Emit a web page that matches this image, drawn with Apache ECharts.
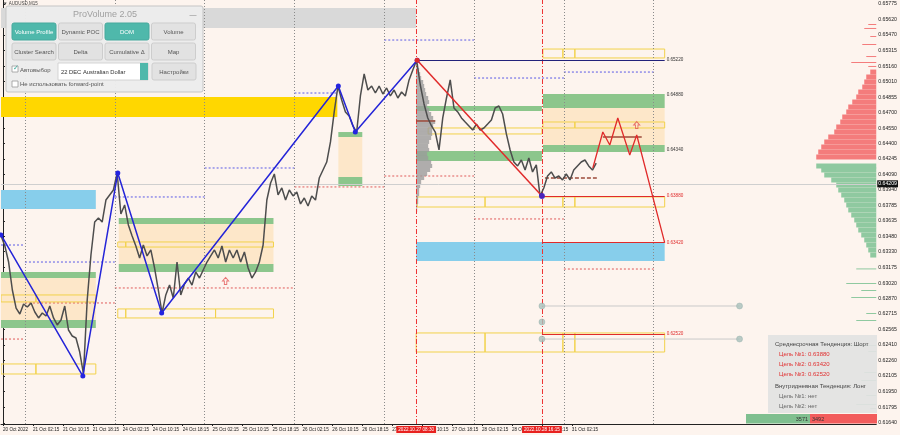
<!DOCTYPE html>
<html><head><meta charset="utf-8">
<script src="https://cdn.jsdelivr.net/npm/echarts@6/dist/echarts.min.js"></script>
<style>html,body{margin:0;padding:0;background:#fdf4ee;}#c{width:900px;height:435px;}</style>
</head><body><div id="c"></div>
<script>
// ---------- DATA ----------
const xTickHours = [0,8,16,24,32,40,48,56,64,72,80,88,96,104,112,120,128,136,144,152];
const xTickLabels = ['20 Oct 2022','21 Oct 02:15','21 Oct 10:15','21 Oct 18:15','24 Oct 02:15','24 Oct 10:15','24 Oct 18:15','25 Oct 02:15','25 Oct 10:15','25 Oct 18:15','26 Oct 02:15','26 Oct 10:15','26 Oct 18:15','27 Oct 02:15','27 Oct 10:15','27 Oct 18:15','28 Oct 02:15','28 Oct 10:15','28 Oct 18:15','31 Oct 02:15'];
const yTicks = [0.65775,0.65620,0.65470,0.65315,0.65160,0.65010,0.64855,0.64700,0.64550,0.64400,0.64245,0.64090,0.63940,0.63785,0.63635,0.63480,0.63330,0.63175,0.63020,0.62870,0.62715,0.62565,0.62410,0.62260,0.62105,0.61950,0.61795,0.61640];
const lastPrice = 0.64209;
const priceStartHour = -0.5;
const closes = [0.63485,0.63386,0.63228,0.62952,0.62774,0.62715,0.62814,0.62784,0.62824,0.62735,
0.62676,0.62725,0.62695,0.62794,0.62676,0.62607,0.62656,0.62794,0.62557,0.62498,
0.62478,0.62340,0.62123,0.62853,0.63297,0.63623,0.63663,0.63623,0.63840,0.63890,
0.63939,0.64107,0.63702,0.63791,0.63594,0.63485,0.63386,0.63268,0.63396,0.63288,
0.63347,0.63169,0.62952,0.62725,0.62903,0.63001,0.62873,0.63228,0.62903,0.63011,
0.63070,0.63001,0.63130,0.63070,0.63149,0.63228,0.63288,0.63347,0.63268,0.63386,
0.63228,0.63347,0.63268,0.63347,0.63228,0.63327,0.63169,0.63070,0.63130,0.63228,
0.63396,0.63840,0.64008,0.64097,0.63890,0.63959,0.63840,0.63939,0.63880,0.63919,
0.63801,0.63860,0.63781,0.63880,0.63840,0.64057,0.64136,0.64215,0.64413,0.64709,
0.64965,0.64827,0.64709,0.64669,0.64571,0.64511,0.64867,0.65084,0.64926,0.64965,
0.64896,0.64965,0.64886,0.64946,0.64867,0.64926,0.64847,0.64906,0.64867,0.65025,
0.65123,0.65220,0.64975,0.64788,0.64650,0.64571,0.64511,0.64334,0.64650,0.64847,
0.65025,0.64748,0.64709,0.64650,0.64610,0.64571,0.64531,0.64590,0.64531,0.64551,
0.64590,0.64630,0.64748,0.64768,0.64689,0.64492,0.64334,0.64215,0.64176,0.64235,
0.64136,0.64255,0.64117,0.64186,0.63880,0.63959,0.64077,0.64117,0.64057,0.64077,
0.64038,0.64097,0.64038,0.64136,0.64176,0.64215,0.64235,0.64176,0.64136,0.64205];
const zigzagUp = [[-0.53,0.63495],[21.33,0.62103],[30.67,0.64107],[42.4,0.62725],[89.6,0.64965],[94.13,0.64511],[110.67,0.65220]];
const zigzagDown = [[110.67,0.65220],[144,0.63880]];
const projection = [[157.6,0.64156],[160.27,0.64511],[162.13,0.64383],[164.27,0.64649],[167.47,0.64284],[169.33,0.64482],[176.8,0.63420]];
const targets = [0.63880,0.63420,0.62520];
const highLevel = 0.65220;
const zoneLevels = [0.64880,0.64340];
// zones: [startHour, endHour, upperPrice, lowerPrice, kind]
const zones = [
 [-0.53,110.4,0.65735,0.65538,'gray'],
 [-0.53,89.33,0.64857,0.64659,'gold'],
 [-0.53,24.8,0.63939,0.63751,'blue'],
 [110.4,176.8,0.63426,0.63238,'blue'],
 [-0.53,24.8,0.63071,0.62656,'peach'],
 [30.93,72.27,0.63603,0.63209,'peach'],
 [89.6,96,0.64462,0.64067,'peach'],
 [144.27,176.8,0.64748,0.64383,'peach'],
 [-0.53,24.8,0.63130,0.63071,'green'],
 [-0.53,24.8,0.62656,0.62577,'green'],
 [30.93,72.27,0.63663,0.63603,'green'],
 [30.93,72.27,0.63209,0.63130,'green'],
 [89.6,96,0.64511,0.64462,'green'],
 [89.6,96,0.64067,0.63978,'green'],
 [110.4,144,0.64768,0.64719,'green'],
 [110.4,144,0.64324,0.64225,'green'],
 [144.27,176.8,0.64886,0.64748,'green'],
 [144.27,176.8,0.64383,0.64314,'green']
];
const outlineBoxes = [
 [-0.53,8.8,0.62903,0.62834],[8.8,24.8,0.62903,0.62834],
 [-0.53,8.8,0.62222,0.62123],[8.8,24.8,0.62222,0.62123],
 [30.67,32.8,0.63426,0.63376],[32.8,72.27,0.63426,0.63376],
 [30.67,32.8,0.62765,0.62676],[32.8,56.8,0.62765,0.62676],[56.8,72.27,0.62765,0.62676],
 [110.67,128.8,0.63870,0.63771],[128.8,149.6,0.63870,0.63771],[149.6,152.8,0.63870,0.63771],[152.8,176.8,0.63870,0.63771],
 [144.27,149.6,0.65330,0.65242],[149.6,152.8,0.65330,0.65242],[152.8,176.8,0.65330,0.65242],
 [144.27,152.8,0.64610,0.64551],[152.8,176.8,0.64610,0.64551],
 [113.6,144,0.64551,0.64492],
 [110.4,128.8,0.62528,0.62340],[128.8,149.6,0.62528,0.62340],[149.6,152.8,0.62528,0.62340],[152.8,176.8,0.62528,0.62340]
];
// dotted levels: [startHour, endHour, price, kind]
const dottedLevels = [
 [-0.53,5.87,0.63396,'blue'],[5.87,29.87,0.63228,'blue'],[29.87,53.87,0.63870,'blue'],[53.87,77.87,0.64156,'blue'],
 [77.87,89.6,0.64896,'blue'],[101.87,125.87,0.65419,'blue'],[125.87,149.87,0.65044,'blue'],[149.87,173.87,0.65103,'blue'],
 [-0.53,5.87,0.62468,'red'],[5.87,29.87,0.62824,'red'],[29.87,77.87,0.62972,'red'],[77.87,101.87,0.63969,'red'],
 [101.87,125.87,0.64077,'red'],[125.87,149.87,0.63653,'red'],[149.87,173.87,0.63159,'red']
];
const brownLevels = [[110.4,115.5,0.64620,'solid'],[144.8,158.67,0.64057,'dashed'],[160.27,170.67,0.64462,'solid']];
const arrowsUp = [[59.47,0.63041],[169.33,0.64580]];
const grayLevels = [[144,196.8,0.62794],[144,196.8,0.62468]];
const grayDots = [[144,0.62794],[144,0.62636],[144,0.62468],[196.8,0.62794],[196.8,0.62468]];
const sessionMarks = [[110.4,'2022.10.27 08:30'],[144,'2022.10.28 16:15']];
const profileStart = 110.4;
const profileStep = 0.000395;
const profile = [[0.65202,1],[0.65163,2],[0.65123,3],[0.65084,4],[0.65044,5],[0.65005,7],[0.64965,8],[0.64926,9],[0.64886,10],[0.64847,12],
 [0.64807,13],[0.64768,11],[0.64728,13],[0.64689,15],[0.64650,17],[0.64610,19],[0.64571,17],[0.64531,16],[0.64492,16],[0.64452,15],
 [0.64413,13],[0.64373,12],[0.64334,13],[0.64294,11],[0.64255,12],[0.64215,15],[0.64176,16],[0.64136,14],[0.64097,11],[0.64057,8],
 [0.64018,5],[0.63978,4],[0.63939,3],[0.63899,3],[0.63860,2],[0.63821,2],[0.63781,1],[0.63742,1]];
const domStep = 0.000493;
const domAsk = [[0.65103,6],[0.65054,10],[0.65005,12],[0.64955,14],[0.64906,18],[0.64857,20],[0.64807,24],[0.64758,28],[0.64709,30],[0.64660,34],
 [0.64610,36],[0.64561,40],[0.64511,42],[0.64462,48],[0.64413,52],[0.64363,55],[0.64314,58],[0.64265,60]];
const domBid = [[0.64176,60],[0.64136,55],[0.64087,52],[0.64038,45],[0.63988,40],[0.63939,38],[0.63890,35],[0.63840,32],[0.63791,30],[0.63742,28],
 [0.63692,25],[0.63643,22],[0.63594,20],[0.63544,18],[0.63495,15],[0.63446,12],[0.63396,10],[0.63347,8],[0.63297,6]];
const domAskThin = [[0.65577,8],[0.65538,12],[0.65459,6],[0.65380,14],[0.65261,10],[0.65202,25],[0.65163,8]];
const domBidThin = [[0.63165,20],[0.63021,30],[0.62952,15],[0.62883,25],[0.62725,10],[0.62656,20],[0.62409,30],[0.62350,8],[0.62143,12],[0.62064,15],[0.61916,10],[0.61827,20],[0.61787,6]];
const bidVolume = 3571, askVolume = 3492;

// ---------- CHART ----------
const xMin = -0.533, xMax = 233.33;
const zoneColors = {gray:'#d9d9d9', gold:'#ffd700', blue:'#87ceeb', green:'#8cc68c', peach:'#fde7c9'};
const font = 'Liberation Sans, Arial, sans-serif';
const priceData = closes.map((p,i)=>[priceStartHour+i, p]);

function rectRender(list, styleOf){
  return function(params, api){
    const d = list[params.dataIndex];
    const a = api.coord([d[0], d[2]]), b = api.coord([d[1], d[3]]);
    return {type:'rect', shape:{x:a[0], y:a[1], width:b[0]-a[0], height:b[1]-a[1]}, style:styleOf(d)};
  };
}
function segRender(list, styleOf){
  return function(params, api){
    const d = list[params.dataIndex];
    const a = api.coord([d[0], d[2]]), b = api.coord([d[1], d[2]]);
    return {type:'line', shape:{x1:a[0], y1:a[1], x2:b[0], y2:b[1]}, style:styleOf(d)};
  };
}
const series = [];
const daySeparators = [5.87,29.87,53.87,77.87,101.87,125.87,149.87,173.87];
series.push({type:'line', silent:true, z:1, data:[], markLine:{silent:true, symbol:'none', label:{show:false},
  lineStyle:{color:'#8a8a8a', width:1, type:[1,2]}, data:daySeparators.map(x=>({xAxis:x}))}});
series.push({type:'custom', silent:true, clip:true, z:1, data:zones.map(d=>[d[0],d[1],d[2],d[3]]),
  renderItem: rectRender(zones, d=>({fill:zoneColors[d[4]]}))});
series.push({type:'custom', silent:true, clip:true, z:2, data:dottedLevels.map(d=>[d[0],d[1],d[2]]),
  renderItem: segRender(dottedLevels, d=>({stroke: d[3]==='blue' ? '#5a5ae6' : '#e05a5a', lineWidth:1, lineDash:[2,2]}))});
series.push({type:'custom', silent:true, clip:true, z:3, data:outlineBoxes,
  renderItem: rectRender(outlineBoxes, d=>({fill:'none', stroke:'#f2d24a', lineWidth:1}))});
// mid volume profile
series.push({type:'custom', silent:true, clip:true, z:4, data:profile,
  renderItem(params, api){
    const d = profile[params.dataIndex];
    const a = api.coord([profileStart, d[0] + profileStep/2]);
    const h = api.size([0, profileStep])[1];
    return {type:'rect', shape:{x:a[0], y:a[1], width:d[1], height:h}, style:{fill:'#9b9b9b', opacity:0.8}};
  }});
// DOM profile at right edge
const dom = domAsk.map(d=>[d[0],d[1],'ask',domStep]).concat(domBid.map(d=>[d[0],d[1],'bid',domStep]))
  .concat(domAskThin.map(d=>[d[0],d[1],'ask',0])).concat(domBidThin.map(d=>[d[0],d[1],'bid',0]));
series.push({type:'custom', silent:true, clip:true, z:4, data:dom.map(d=>[d[0],d[1]]),
  renderItem(params, api){
    const d = dom[params.dataIndex];
    const a = api.coord([xMax, d[0] + d[3]/2]);
    const h = d[3] ? api.size([0, d[3]])[1] : 1;
    return {type:'rect', shape:{x:a[0]-d[1], y:a[1], width:d[1], height:h}, style:{fill: d[2]==='ask' ? '#f47c7c' : '#8fc9a0'}};
  }});
series.push({type:'custom', silent:true, clip:true, z:5, data:brownLevels.map(d=>[d[0],d[1],d[2]]),
  renderItem: segRender(brownLevels, d=>({stroke:'#9c4a3a', lineWidth:1.5, lineDash: d[3]==='dashed'?[4,2]:null}))});
series.push({type:'custom', silent:true, clip:true, z:5, data:grayLevels,
  renderItem: segRender(grayLevels, d=>({stroke:'#c9c9c9', lineWidth:1}))});
series.push({type:'scatter', silent:true, z:6, data:grayDots, symbolSize:6, itemStyle:{color:'#a9c0bb', borderColor:'#8faaa4', borderWidth:0.5}});
// price
series.push({type:'line', silent:true, z:7, data:priceData, showSymbol:false, lineStyle:{color:'#4d4d4d', width:1.5},
  markLine:{silent:true, symbol:'none', data:[
    {yAxis:lastPrice, lineStyle:{color:'#cfcfcf', width:1, type:'solid'},
     label:{show:true, position:'end', distance:1, formatter:lastPrice.toFixed(5), color:'#fff', backgroundColor:'#111', padding:[1,1], fontSize:5.2, fontFamily:font}},
    ...sessionMarks.map(s=>({xAxis:s[0], lineStyle:{color:'#e33', width:1, type:[5,2,1,2]},
     label:{show:true, position:'start', distance:2, formatter:s[1], color:'#fff', backgroundColor:'#e8211f', padding:[1,2], fontSize:4.6, fontFamily:font}}))
  ]}});
series.push({type:'line', silent:true, z:8, data:zigzagUp, lineStyle:{color:'#2424d8', width:1.5}, symbol:'circle', symbolSize:5,
  itemStyle:{color:'#2424e0'}, showAllSymbol:true});
series.push({type:'line', silent:true, z:8, data:zigzagDown, lineStyle:{color:'#e02a2a', width:1.5}, symbol:'circle', symbolSize:5,
  itemStyle:{color:'#e02a2a'}});
series.push({type:'scatter', silent:true, z:9, data:[zigzagDown[1]], symbolSize:6, itemStyle:{color:'#2424e0'}});
series.push({type:'line', silent:true, z:8, data:projection, showSymbol:false, lineStyle:{color:'#e02a2a', width:1.3}});
const lvl = (p, col, t0) => [{coord:[t0, p], lineStyle:{color:col, width: col==='none'?0:1.2}}, {coord:[176.8, p],
  label:{show:true, position:'end', distance:2, formatter:p.toFixed(5), color: col==='#e02a2a' ? '#e02a2a' : '#333', fontSize:4.6, fontFamily:font}}];
series.push({type:'line', silent:true, z:8, data:[], markLine:{silent:true, symbol:'none', lineStyle:{type:'solid'}, data:[
  lvl(highLevel, '#22227a', 110.67),
  ...targets.map(p=>lvl(p, '#e02a2a', 144)),
  ...zoneLevels.map(p=>lvl(p, 'none', 175))
]}});
series.push({type:'scatter', silent:true, z:9, data:arrowsUp, symbol:'path://M5,0 L10,5 L7,5 L7,10 L3,10 L3,5 L0,5 Z', symbolSize:[6,7],
  itemStyle:{color:'rgba(255,255,255,0)', borderColor:'#e25555', borderWidth:1}});

const option = {
  backgroundColor:'#fdf4ee',
  animation:false,
  grid:{left:0, right:23, top:0, bottom:11, containLabel:false},
  xAxis:{type:'value', min:xMin, max:xMax,
    axisLine:{show:true, lineStyle:{color:'#222', width:1}},
    axisTick:{show:true, length:2, customValues:xTickHours, lineStyle:{color:'#222'}},
    splitLine:{show:false},
    axisLabel:{customValues:xTickHours, formatter:v=>xTickLabels[xTickHours.indexOf(v)], align:'left', margin:3, fontSize:4.6, color:'#222', fontFamily:font}},
  yAxis:{type:'value', position:'right', min:0.616295, max:0.65814,
    axisLine:{show:true, lineStyle:{color:'#222', width:1}},
    axisTick:{show:true, length:2, customValues:yTicks, lineStyle:{color:'#222'}},
    splitLine:{show:false},
    axisLabel:{customValues:yTicks, formatter:v=>v.toFixed(5), margin:2, fontSize:5.2, color:'#222', fontFamily:font}},
  series:series,
  graphic:[]
};

// ---------- OVERLAYS (panel, info box) ----------
const g = [];
const T = (x,y,text,opt={}) => g.push({type:'text', x, y, silent:true, z:100, style:Object.assign({text, fontSize:6, fill:'#333', fontFamily:font, textVerticalAlign:'middle'}, opt)});
const R = (x,y,w,h,opt={}) => g.push({type:'rect', silent:true, z:99, shape:{x,y,width:w,height:h,r:opt.r||0}, style:Object.assign({fill:'#e5e5e5'}, opt.style||{})});
T(3,4,'▼ AUDUSD,M15',{fontSize:4.5, fill:'#444'});
R(6,6,197,86,{r:2, style:{fill:'rgba(236,236,236,0.97)', stroke:'#c5c5c5', lineWidth:1}});
T(105,15,'ProVolume 2.05',{fontSize:9, fill:'#a0a0a0', textAlign:'center'});
T(193,15,'—',{fontSize:7, fill:'#888', textAlign:'center'});
const btns = [['Volume Profile',true],['Dynamic POC',false],['DOM',true],['Volume',false],['Cluster Search',false],['Delta',false],['Cumulative Δ',false],['Map',false]];
btns.forEach((b,i)=>{
  const col=i%4, row=Math.floor(i/4);
  const x=12+col*46.5, y=23+row*20;
  R(x,y,44,17,{r:2, style:{fill:b[1]?'#4fb8ab':'#e2e2e2', stroke:b[1]?'#47a99d':'#cdcdcd', lineWidth:1}});
  T(x+22,y+9,b[0],{fontSize:6, fill:b[1]?'#fff':'#555', textAlign:'center'});
});
R(12,66,6,6,{style:{fill:'#fff', stroke:'#999', lineWidth:0.8}});
T(12.5,68,'✓',{fontSize:7, fill:'#3aa89b'});
T(20,70,'Автовыбор',{fontSize:6, fill:'#555'});
R(58,63,90,17,{style:{fill:'#fff', stroke:'#ccc', lineWidth:0.8}});
R(140,63,8,17,{style:{fill:'#4fb8ab'}});
T(61,72,'22 DEC Australian Dollar',{fontSize:5.8, fill:'#333'});
R(152,63,44,17,{r:2, style:{fill:'#e2e2e2', stroke:'#cdcdcd', lineWidth:1}});
T(174,72,'Настройки',{fontSize:6, fill:'#555', textAlign:'center'});
R(12,81,6,6,{style:{fill:'#fff', stroke:'#999', lineWidth:0.8}});
T(20,84,'Не использовать forward-point',{fontSize:6, fill:'#555'});
// info box
R(768,335,109,78,{style:{fill:'rgba(226,226,226,0.92)'}});
T(775,344,'Среднесрочная Тенденция: Шорт',{fontSize:6, fill:'#444'});
targets.forEach((p,i)=>T(779,354+i*10,'Цель №'+(i+1)+': '+p.toFixed(5),{fontSize:6, fill:'#e03030'}));
T(775,386,'Внутридневная Тенденция: Лонг',{fontSize:6, fill:'#444'});
T(779,396,'Цель №1: нет',{fontSize:6, fill:'#666'});
T(779,406,'Цель №2: нет',{fontSize:6, fill:'#666'});
R(746,414,64,9.5,{style:{fill:'#7fbf8f'}});
R(810,414,67,9.5,{style:{fill:'#f25c5c'}});
T(808,419,String(bidVolume),{fontSize:5.5, fill:'#333', textAlign:'right'});
T(812,419,String(askVolume),{fontSize:5.5, fill:'#333'});
option.graphic = g;

const chart = echarts.init(document.getElementById('c'), null, {renderer:'canvas'});
chart.setOption(option);
</script></body></html>
